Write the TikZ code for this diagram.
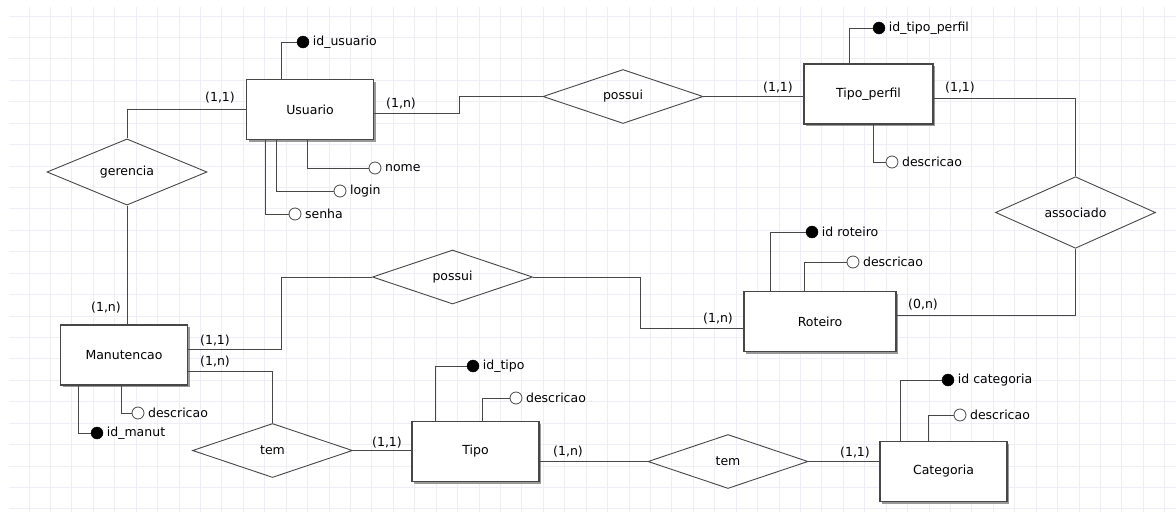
\documentclass[tikz,border=0pt]{standalone}
\usepackage{fontspec}
\setmainfont{DejaVu Sans}
\usetikzlibrary{shapes.geometric,shadows}

\newcommand{\erfont}{\fontsize{12.5}{14}\selectfont}

\begin{document}
\begin{tikzpicture}[x=1pt,y=-1pt,
  entity/.style={rectangle,draw=black!72,line width=1.1pt,fill=white,minimum width=127pt,minimum height=60pt,font=\erfont,
    drop shadow={shadow xshift=2pt,shadow yshift=-2pt,fill=black!40,opacity=1}},
  rel/.style={diamond,draw=black!72,line width=.9pt,minimum width=160pt,minimum height=54pt,inner sep=0pt,font=\erfont},
  link/.style={draw=black!72,line width=.9pt},
  pk/.style={circle,fill=black,draw=black,minimum size=12pt,inner sep=0pt},
  att/.style={circle,fill=white,draw=black!72,line width=.8pt,minimum size=12pt,inner sep=0pt},
  attname/.style={font=\erfont,inner sep=1pt,label distance=2.5pt},
  card/.style={font=\erfont,inner sep=1pt},
  gridline/.style={draw=blue!30!gray!10,line width=.9pt}
]
\useasboundingbox (0,0) rectangle (1176,512);
\fill[white] (0,0) rectangle (1176,512);

% grid
\foreach \k in {0,...,53} \draw[gridline] ({29+21.43*\k},7) -- ({29+21.43*\k},512);
\foreach \k in {0,...,23} \draw[gridline] (9,{16+21.43*\k}) -- (1176,{16+21.43*\k});

% entities
\node[entity] (Usu) at (310,109.5) {Usuario};
\node[entity,minimum width=129pt] (TP) at (868.5,94) {Tipo\_perfil};
\node[entity,minimum width=152pt] (Rot) at (820,321.5) {Roteiro};
\node[entity] (Man) at (124,355) {Manutencao};
\node[entity] (Tipo) at (475.5,451.5) {Tipo};
\node[entity] (Cat) at (943.5,471.5) {Categoria};

% relationships
\node[rel] (ger) at (127,172) {gerencia};
\node[rel] (pos1) at (623,96.5) {possui};
\node[rel] (assoc) at (1075.5,212.5) {associado};
\node[rel] (pos2) at (452.5,277) {possui};
\node[rel] (tem1) at (272.5,450.5) {tem};
\node[rel] (tem2) at (728,461.5) {tem};

% attributes
\node[pk,label={[attname]right:id\_usuario}] (idUsu) at (303,42) {};
\node[att,label={[attname]right:nome}] (nomeUsu) at (375,168) {};
\node[att,label={[attname]right:login}] (loginUsu) at (340,191) {};
\node[att,label={[attname]right:senha}] (senhaUsu) at (295,214) {};
\node[pk,label={[attname]right:id\_tipo\_perfil}] (idTP) at (879,28) {};
\node[att,label={[attname]right:descricao}] (descTP) at (892,162) {};
\node[pk,label={[attname]right:id roteiro}] (idRot) at (812,232) {};
\node[att,label={[attname]right:descricao}] (descRot) at (853,262) {};
\node[att,label={[attname]right:descricao}] (descMan) at (138,413) {};
\node[pk,label={[attname]right:id\_manut}] (idMan) at (97,433) {};
\node[pk,label={[attname]right:id\_tipo}] (idTipo) at (473,366) {};
\node[att,label={[attname]right:descricao}] (descTipo) at (516,398) {};
\node[pk,label={[attname]right:id categoria}] (idCat) at (948,380) {};
\node[att,label={[attname]right:descricao}] (descCat) at (960,415) {};

\draw[link] (Usu.north -| 281,0) |- (idUsu);
\draw[link] (Usu.south -| 307,0) |- (nomeUsu);
\draw[link] (Usu.south -| 276,0) |- (loginUsu);
\draw[link] (Usu.south -| 265,0) |- (senhaUsu);
\draw[link] (TP.north -| 849,0) |- (idTP);
\draw[link] (TP.south -| 873,0) |- (descTP);
\draw[link] (Rot.north -| 770,0) |- (idRot);
\draw[link] (Rot.north -| 804,0) |- (descRot);
\draw[link] (Man.south -| 121,0) |- (descMan);
\draw[link] (Man.south -| 78,0) |- (idMan);
\draw[link] (Tipo.north -| 435,0) |- (idTipo);
\draw[link] (Tipo.north -| 482,0) |- (descTipo);
\draw[link] (Cat.north -| 900,0) |- (idCat);
\draw[link] (Cat.north -| 928,0) |- (descCat);

% relationship links
\draw[link] (Usu.west) -| (ger.north);
\draw[link] (ger.south) -- (ger.south |- Man.north);
\draw[link] ([yshift=-3.5pt]Usu.east) -- ++(85,0) |- (pos1.west);
\draw[link] (pos1.east) -- (pos1.east -| TP.west);
\draw[link] ([yshift=-4pt]TP.east) -| (assoc.north);
\draw[link] (assoc.south) |- ([yshift=6.5pt]Rot.east);
\draw[link] ([yshift=6pt]Man.east) -- ++(93,0) |- (pos2.west);
\draw[link] (pos2.east) -- ++(107,0) |- ([yshift=-6.5pt]Rot.west);
\draw[link] ([yshift=-16pt]Man.east) -| (tem1.north);
\draw[link] (tem1.east) -- (tem1.east -| Tipo.west);
\draw[link] (tem2.west -| Tipo.east) -- (tem2.west);
\draw[link] (tem2.east) -- (tem2.east -| Cat.west);

% cardinalities
\node[card] (c1) at (220,98) {(1,1)};
\node[card] (c2) at (106,308) {(1,n)};
\node[card] (c3) at (401,104) {(1,n)};
\node[card] (c4) at (778,88) {(1,1)};
\node[card] (c5) at (960,88) {(1,1)};
\node[card] (c6) at (923,305) {(0,n)};
\node[card] (c7) at (215,341) {(1,1)};
\node[card] (c8) at (718,319) {(1,n)};
\node[card] (c9) at (215,362) {(1,n)};
\node[card] (c10) at (387,443) {(1,1)};
\node[card] (c11) at (568,452) {(1,n)};
\node[card] (c12) at (855,453) {(1,1)};
\end{tikzpicture}
\end{document}
